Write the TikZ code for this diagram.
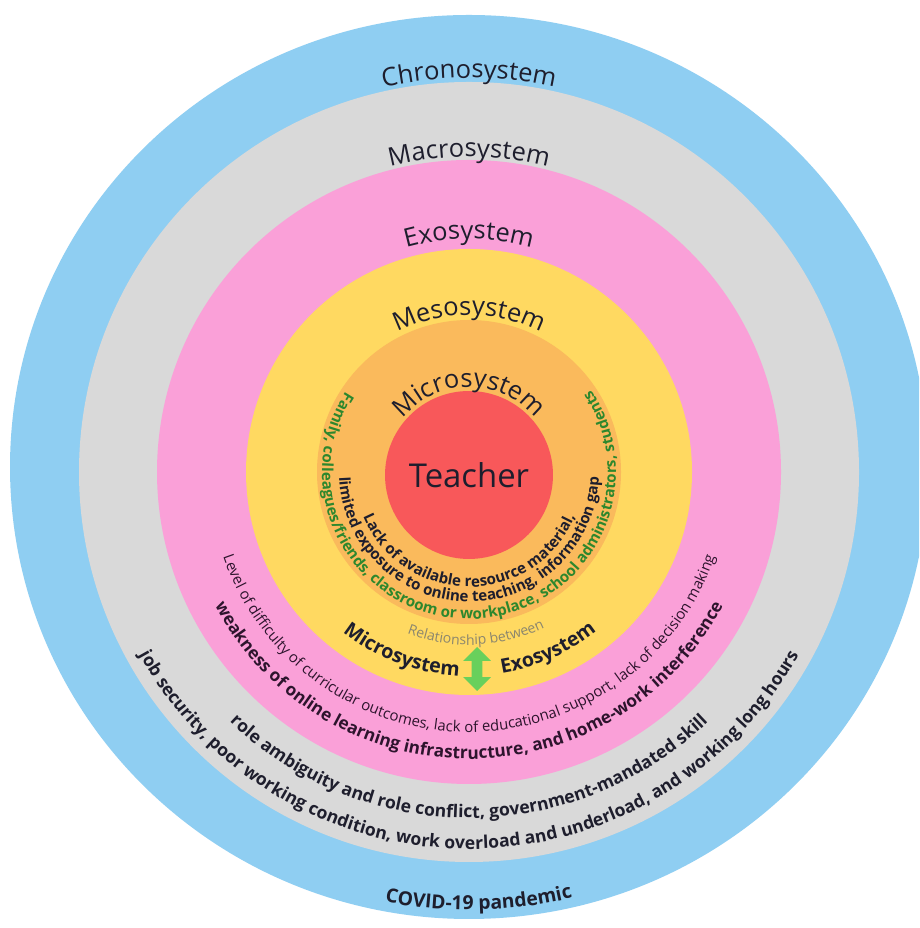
\documentclass[tikz,border=0pt]{standalone}
\usepackage{fontspec}
\setmainfont{Open Sans}
\usepackage{tikz}
\usetikzlibrary{decorations.text, shapes.arrows}

\definecolor{chronoblue}{RGB}{143,206,242}
\definecolor{macrogray}{RGB}{217,217,217}
\definecolor{exopink}{RGB}{250,160,216}
\definecolor{mesoyellow}{RGB}{255,217,97}
\definecolor{microorange}{RGB}{250,186,92}
\definecolor{teachred}{RGB}{248,88,90}
\definecolor{labeldark}{RGB}{30,30,45}
\definecolor{factgreen}{RGB}{45,135,45}
\definecolor{factdark}{RGB}{45,20,45}
\definecolor{relgray}{RGB}{140,135,110}
\definecolor{arrowgreen}{RGB}{104,208,92}

% text formats used along the arcs
\newcommand{\ringname}{\fontsize{14.5}{17}\selectfont\color{labeldark}}
\newcommand{\microfact}{\fontsize{8.6}{10}\selectfont\bfseries\color{labeldark}}
\newcommand{\microrel}{\fontsize{8.6}{10}\selectfont\bfseries\color{factgreen}}
\newcommand{\mesoname}{\fontsize{11.2}{13}\selectfont\bfseries\color{labeldark}}
\newcommand{\mesorel}{\fontsize{8}{10}\selectfont\color{relgray}}
\newcommand{\exosmall}{\fontsize{8.5}{10}\selectfont\color{factdark}}
\newcommand{\exobig}{\fontsize{9.8}{12}\selectfont\bfseries\color{factdark}}
\newcommand{\macrofact}{\fontsize{10}{12}\selectfont\bfseries\color{labeldark}}
\newcommand{\chronofact}{\fontsize{11}{13}\selectfont\bfseries\color{labeldark}}

\begin{document}
\begin{tikzpicture}[
  x=0.02cm, y=0.02cm,
  arctext/.style={decorate, decoration={text along path, text align=center}},
  teacher/.style={circle, fill=teachred, minimum size=3.36cm, inner sep=0pt,
                  text=labeldark, font=\fontsize{18.7}{22}\selectfont},
  relarrow/.style={double arrow, rotate=90, fill=arrowgreen, draw=none,
                   minimum height=0.88cm, inner sep=0.1cm,
                   double arrow head extend=0.17cm}
]

%% ── canvas ───────────────────────────────────────────────────────────
\useasboundingbox (0,0) rectangle (919,928);
\fill[white] (0,0) rectangle (919,928);
\clip (0,0) rectangle (919,928);
\coordinate (C) at (469,456);

%% ── rings, outermost first ───────────────────────────────────────────
\fill[chronoblue]  (469,461) ellipse[x radius=459, y radius=452];
\fill[macrogray]   (C) circle[radius=390];
\fill[exopink]     (C) circle[radius=312];
\fill[mesoyellow]  (C) circle[radius=223];
\fill[microorange] (C) circle[radius=152];
\node[teacher] (teacher) at (469,453) {Teacher};

%% ── system names on the top arcs ─────────────────────────────────────
\path[arctext, decoration={text={|\ringname|Chronosystem}}]
  ([shift={(130:394)}]C) arc[start angle=130, end angle=50, radius=394];
\path[arctext, decoration={text={|\ringname|Macrosystem}}]
  ([shift={(135:315)}]C) arc[start angle=135, end angle=45, radius=315];
\path[arctext, decoration={text={|\ringname|Exosystem}}]
  ([shift={(140:233)}]C) arc[start angle=140, end angle=40, radius=233];
\path[arctext, decoration={text={|\ringname|Mesosystem}}]
  ([shift={(150:157)}]C) arc[start angle=150, end angle=30, radius=157];
\path[arctext, decoration={text={|\ringname|Microsystem}}]
  ([shift={(170:85)}]C) arc[start angle=170, end angle=10, radius=85];

%% ── microsystem ──────────────────────────────────────────────────────
\path[arctext, decoration={text={|\microfact|Lack of available resource material,}}]
  ([shift={(190:115)}]C) arc[start angle=190, end angle=350, radius=115];
\path[arctext, decoration={text={|\microfact|limited exposure to online teaching, information gap}}]
  ([shift={(175:130)}]C) arc[start angle=175, end angle=365, radius=130];
\path[arctext, decoration={text={|\microrel|Family, colleagues/friends, classroom or workplace, school administrators, students}}]
  ([shift={(140:147)}]C) arc[start angle=140, end angle=401, radius=147];

%% ── mesosystem ───────────────────────────────────────────────────────
\path[arctext, decoration={text={|\mesoname|Microsystem}}]
  ([shift={(224.5:204)}]C) arc[start angle=224.5, end angle=274.5, radius=204];
\path[arctext, decoration={text={|\mesoname|Exosystem}}]
  ([shift={(269:204)}]C) arc[start angle=269, end angle=319, radius=204];
\path[arctext, decoration={text={|\mesorel|Relationship between}}]
  ([shift={(240:173)}]C) arc[start angle=240, end angle=305, radius=173];
\node[relarrow] (rel) at (477,259) {};

%% ── exosystem ────────────────────────────────────────────────────────
\path[arctext, decoration={text={|\exosmall|Level of difficulty of curricular outcomes, lack of educational support, lack of decision making}}]
  ([shift={(190:260)}]C) arc[start angle=190, end angle=350, radius=260];
\path[arctext, decoration={text={|\exobig|weakness of online learning infrastructure, and home-work interference}}]
  ([shift={(200:287)}]C) arc[start angle=200, end angle=340, radius=287];

%% ── macrosystem ──────────────────────────────────────────────────────
\path[arctext, decoration={text={|\macrofact|role ambiguity and role conflict, government-mandated skill}}]
  ([shift={(220:346)}]C) arc[start angle=220, end angle=320, radius=346];
\path[arctext, decoration={text={|\macrofact|job security, poor working condition, work overload and underload, and working long hours}}]
  ([shift={(200:377)}]C) arc[start angle=200, end angle=340, radius=377];

%% ── chronosystem ─────────────────────────────────────────────────────
\path[arctext, decoration={text={|\chronofact|COVID-19 pandemic}}]
  ([shift={(250:438)}]C) arc[start angle=250, end angle=292.6, radius=438];

\end{tikzpicture}
\end{document}
